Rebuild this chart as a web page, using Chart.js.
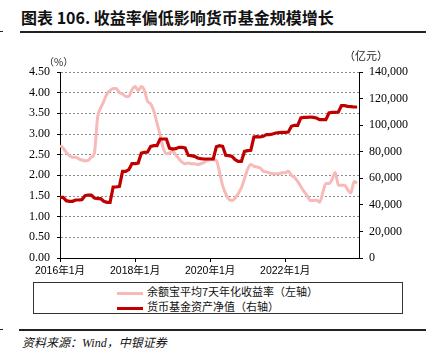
<!DOCTYPE html>
<html>
<head>
<meta charset="utf-8">
<script src="https://cdn.jsdelivr.net/npm/chart.js@4"></script>
<style>
  body { margin: 0; background: #fff; }
  #wrap { position: relative; width: 426px; height: 359px; overflow: hidden; font-family: "Noto Sans CJK SC", sans-serif; }
  #title { position: absolute; left: 21px; top: 5px; font-size: 16px; font-weight: bold; color: #111; white-space: nowrap; }
  .rule { position: absolute; background: #222; }
  #chartBox { position: absolute; left: 0; top: 40px; width: 426px; height: 240px; }
  #legend { position: absolute; left: 33px; top: 282px; width: 368px; height: 30px; border: 1px solid #333; font-size: 11px; color: #111; }
  .row { position: absolute; left: 83px; height: 14px; line-height: 14px; white-space: nowrap; }
  .swatch { display: inline-block; width: 26px; height: 3px; vertical-align: middle; margin-right: 4px; }
  #source { position: absolute; left: 22px; top: 333px; font-size: 12px; font-style: italic; color: #111; white-space: nowrap; }
  #source .en { font-family: "Liberation Serif", serif; }
</style>
</head>
<body>
<div id="wrap">
  <div id="title">图表 106. 收益率偏低影响货币基金规模增长</div>
  <div class="rule" style="left:20px; top:31px; width:406px; height:2px;"></div>
  <div class="rule" style="left:0; top:31px; width:3px; height:1px;"></div>
  <div id="chartBox"><canvas id="chart"></canvas></div>
  <div id="legend">
    <div class="row" style="top:1px;"><span class="swatch" style="background:#F8B9B9;"></span>余额宝平均7天年化收益率（左轴）</div>
    <div class="row" style="top:16px;"><span class="swatch" style="background:#C00000;"></span>货币基金资产净值（右轴）</div>
  </div>
  <div class="rule" style="left:19px; top:329px; width:407px; height:1.5px;"></div>
  <div class="rule" style="left:0; top:329px; width:3px; height:1px;"></div>
  <div id="source">资料来源：<span class="en">Wind</span>，中银证券</div>
</div>
<script>
// monthly, 2016-01 .. 2023-12 (month index 0..95)
const xTickMonths = [0, 24, 48, 72];
const xTickLabels = ["2016年1月", "2018年1月", "2020年1月", "2022年1月"];

// 余额宝平均7天年化收益率 (%)
const yieldValues = [
  2.72, 2.66, 2.56, 2.48, 2.44, 2.44, 2.40, 2.37, 2.35, 2.36, 2.44, 2.54,
  3.39, 3.63, 3.79, 3.97, 4.05, 4.10, 4.10, 4.00, 3.97, 3.91, 3.91, 4.07,
  4.15, 4.05, 4.15, 4.05, 3.79, 3.73, 3.55, 3.27, 2.98, 2.66, 2.52, 2.54,
  2.58, 2.50, 2.40, 2.32, 2.28, 2.30, 2.28, 2.28, 2.26, 2.28, 2.31, 2.36,
  2.38, 2.38, 2.36, 2.08, 1.75, 1.55, 1.42, 1.39, 1.45, 1.56, 1.70, 1.92,
  2.15, 2.26, 2.22, 2.20, 2.18, 2.10, 2.08, 2.06, 2.04, 2.04, 2.04, 2.06,
  2.06, 2.10, 2.00, 1.95, 1.85, 1.73, 1.61, 1.51, 1.39, 1.39, 1.40, 1.35,
  1.57, 1.80, 1.80, 1.90, 2.07, 1.76, 1.76, 1.76, 1.65, 1.57, 1.85, 1.81
];

// 货币基金资产净值 (亿元)
const fundValues = [
  45660, 45660, 43150, 42650, 42650, 43660, 43660, 43900, 46900, 47400, 47400, 45160,
  44660, 44660, 42650, 41900, 41900, 53440, 53440, 53940, 65230, 65230, 66490, 71000,
  71000, 71500, 79030, 79540, 79790, 84050, 84550, 84550, 89570, 89570, 89570, 82700,
  82040, 82300, 83300, 83300, 82800, 77280, 77030, 76520, 75270, 74770, 74520, 74520,
  74520, 74520, 83800, 84550, 84050, 77280, 77030, 76520, 74000, 72760, 72760, 80300,
  80790, 81040, 91080, 91330, 91080, 91580, 92830, 92830, 93330, 94090, 94340, 94590,
  94590, 94840, 99100, 99860, 99860, 105380, 105880, 105880, 106130, 105880, 105380, 104120,
  104120, 104120, 109140, 109640, 109640, 109890, 114660, 114660, 114160, 113910, 113660, 113660
];

const toPoints = (arr) => arr.map((v, i) => ({ x: i, y: v }));

const unitLabels = {
  id: "unitLabels",
  afterDraw(chart) {
    const ctx = chart.ctx;
    ctx.save();
    ctx.fillStyle = "#222";
    ctx.textBaseline = "middle";
    ctx.font = '10px "Noto Sans CJK SC"';
    ctx.fillText("（%）", 44, 22);
    ctx.font = '11px "Noto Sans CJK SC"';
    ctx.fillText("（亿元）", 344, 16);
    ctx.restore();
  }
};

const serif = { family: '"Liberation Serif", "Times New Roman", serif', size: 12 };

new Chart(document.getElementById("chart"), {
  type: "line",
  data: {
    datasets: [
      {
        label: "余额宝平均7天年化收益率（左轴）",
        data: toPoints(yieldValues),
        yAxisID: "y",
        borderColor: "#F8B9B9",
        borderWidth: 3,
        pointRadius: 0,
        cubicInterpolationMode: "monotone",
        order: 2
      },
      {
        label: "货币基金资产净值（右轴）",
        data: toPoints(fundValues),
        yAxisID: "y1",
        borderColor: "#C00000",
        borderWidth: 3.2,
        pointRadius: 0,
        tension: 0,
        order: 1
      }
    ]
  },
  options: {
    responsive: true,
    maintainAspectRatio: false,
    animation: false,
    layout: { padding: { top: 32, left: 0, right: 0, bottom: 0 } },
    plugins: { legend: { display: false }, tooltip: { enabled: false } },
    scales: {
      x: {
        type: "linear",
        min: 0,
        max: 95.6,
        afterFit: (s) => { s.height = 22; },
        afterBuildTicks: (s) => { s.ticks = xTickMonths.map((m) => ({ value: m })); },
        grid: { drawOnChartArea: false, tickLength: 4, tickColor: "#000" },
        border: { color: "#000" },
        ticks: {
          autoSkip: false,
          maxRotation: 0,
          padding: 3,
          color: "#000",
          font: { family: '"Liberation Sans", "Noto Sans CJK SC", sans-serif', size: 10.5 },
          callback: (v) => xTickLabels[xTickMonths.indexOf(Math.round(v))]
        }
      },
      y: {
        position: "left",
        min: 0,
        max: 4.5,
        afterFit: (s) => { s.width = 60; },
        grid: {
          color: (c) => (c.tick && c.tick.value === 0 ? "rgba(0,0,0,0)" : "#8c8c8c"),
          tickColor: "#000",
          tickLength: 3,
          tickBorderDash: []
        },
        border: { color: "#000", dash: [2, 2] },
        ticks: {
          stepSize: 0.5,
          padding: 7,
          color: "#000",
          font: serif,
          callback: (v) => v.toFixed(2)
        }
      },
      y1: {
        position: "right",
        min: 0,
        max: 140000,
        afterFit: (s) => { s.width = 67; },
        grid: { drawOnChartArea: false, tickColor: "#000", tickLength: 4 },
        border: { color: "#000" },
        ticks: {
          stepSize: 20000,
          padding: 6,
          color: "#000",
          font: serif,
          callback: (v) => v.toLocaleString("en-US")
        }
      }
    }
  },
  plugins: [unitLabels]
});
</script>
</body>
</html>
